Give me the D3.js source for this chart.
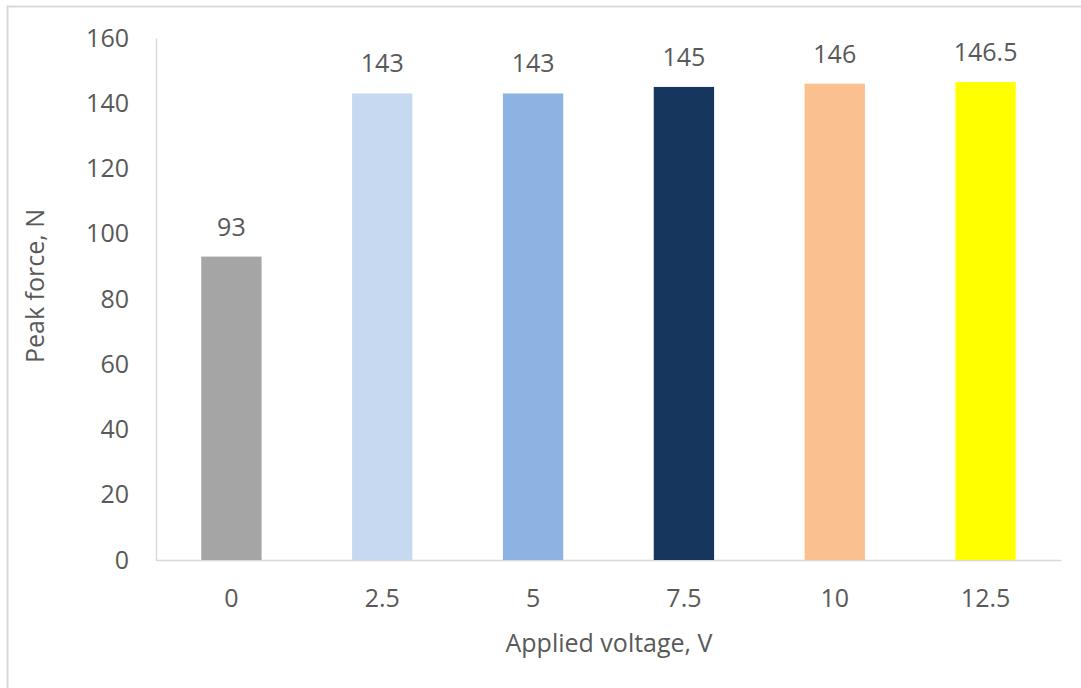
<!DOCTYPE html>
<html><head><meta charset="utf-8">
<script src="https://cdn.jsdelivr.net/npm/d3@7"></script>
<style>
html,body{margin:0;padding:0;background:#fff;}
svg{display:block;}
text{font-family:"Open Sans",sans-serif;fill:#595959;}
</style></head>
<body>
<svg id="chart" width="1081" height="688"></svg>
<script>
const categories = ["0","2.5","5","7.5","10","12.5"];
const values = [93,143,143,145,146,146.5];
const labels = ["93","143","143","145","146","146.5"];
const colors = ["#a5a5a5","#c6d9f1","#8db3e2","#17365d","#fac090","#ffff00"];
const yTicks = [0,20,40,60,80,100,120,140,160];

(function(){
const FS = 25;
const svg = d3.select("#chart");
// outer frame
svg.append("rect").attr("x",7.5).attr("y",6.5).attr("width",1090).attr("height",700)
  .attr("fill","none").attr("stroke","#d9d9d9").attr("stroke-width",2);

const mLeft=156, mRight=1061, mTop=38, mBottom=560;
const x = d3.scaleBand().domain(categories).range([mLeft,mRight]).paddingInner(0.6).paddingOuter(0.3);
const y = d3.scaleLinear().domain([0,160]).range([mBottom,mTop]);

// y axis
const yAxis = svg.append("g").attr("transform",`translate(${mLeft},0)`)
  .call(d3.axisLeft(y).tickValues(yTicks).tickSize(0).tickPadding(27));
yAxis.select(".domain").attr("stroke","#d9d9d9").attr("stroke-width",1.5);
yAxis.selectAll("text").attr("font-size",FS).attr("fill","#595959").style("font-family","Open Sans");

// x axis
const xAxis = svg.append("g").attr("transform",`translate(0,${mBottom})`)
  .call(d3.axisBottom(x).tickSize(0).tickPadding(0));
xAxis.select(".domain").attr("stroke","#d9d9d9").attr("stroke-width",1.5);
xAxis.selectAll("text").attr("font-size",FS).attr("fill","#595959").style("font-family","Open Sans")
  .attr("y",47).attr("dy",null);

// bars
svg.append("g").selectAll("rect").data(values).join("rect")
  .attr("x",(d,i)=>x(categories[i]))
  .attr("width",x.bandwidth())
  .attr("y",d=>y(d))
  .attr("height",d=>y(0)-y(d))
  .attr("fill",(d,i)=>colors[i]);

// data labels
svg.append("g").selectAll("text").data(values).join("text")
  .attr("x",(d,i)=>x(categories[i])+x.bandwidth()/2)
  .attr("y",d=>y(d)-21)
  .attr("text-anchor","middle")
  .attr("font-size",FS)
  .text((d,i)=>labels[i]);

// axis titles
svg.append("text").attr("x",609).attr("y",652).attr("text-anchor","middle")
  .attr("font-size",FS).text("Applied voltage, V");
svg.append("text").attr("transform",`translate(44,286) rotate(-90)`).attr("text-anchor","middle")
  .attr("font-size",FS).text("Peak force, N");
})();
</script>
</body></html>
